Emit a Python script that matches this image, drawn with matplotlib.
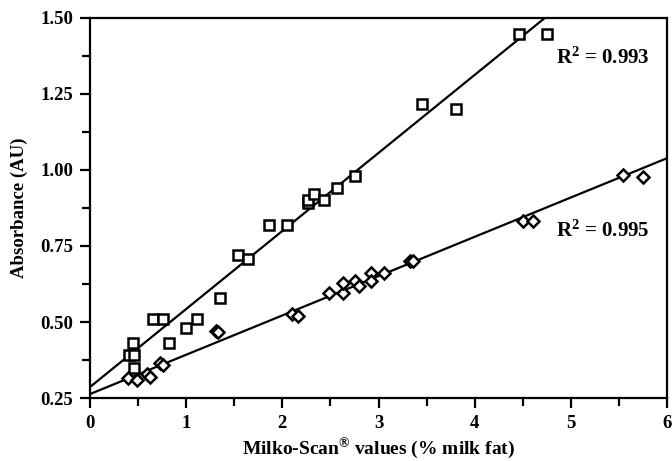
import matplotlib
matplotlib.use("Agg")
import matplotlib.pyplot as plt
import numpy as np
from matplotlib.ticker import MultipleLocator

# Squares series (% milk fat, absorbance)
sq_x = [0.41, 0.46, 0.45, 0.46, 0.65, 0.76, 0.82, 1.00, 1.11, 1.35, 1.54, 1.64, 1.86, 2.05,
        2.27, 2.27, 2.33, 2.43, 2.57, 2.76, 3.45, 3.81, 4.46, 4.75]
sq_y = [0.39, 0.39, 0.43, 0.35, 0.51, 0.51, 0.43, 0.48, 0.51, 0.58, 0.72, 0.707, 0.82, 0.82,
        0.89, 0.90, 0.92, 0.90, 0.94, 0.98, 1.217, 1.20, 1.447, 1.447]
# Diamonds series
di_x = [0.40, 0.49, 0.59, 0.62, 0.73, 0.76, 1.31, 1.33, 2.10, 2.16, 2.49, 2.63, 2.63, 2.76,
        2.80, 2.92, 2.92, 3.06, 3.33, 3.36, 4.50, 4.61, 5.54, 5.75]
di_y = [0.316, 0.31, 0.33, 0.32, 0.365, 0.36, 0.47, 0.467, 0.526, 0.52, 0.595, 0.595, 0.628,
        0.635, 0.62, 0.66, 0.635, 0.66, 0.70, 0.70, 0.832, 0.832, 0.984, 0.978]

# Regression lines (slope, intercept)
sq_fit = (0.2567, 0.286)
di_fit = (0.1293, 0.263)
r2_labels = ["R$^{2}$ = 0.993", "R$^{2}$ = 0.995"]

plt.rcParams['font.family'] = ['Liberation Serif', 'DejaVu Serif']
plt.rcParams['mathtext.fontset'] = 'custom'
plt.rcParams['mathtext.rm'] = 'Liberation Serif:bold'
plt.rcParams['mathtext.it'] = 'Liberation Serif:bold'
plt.rcParams['mathtext.bf'] = 'Liberation Serif:bold'

fig = plt.figure(figsize=(6.72, 4.61), dpi=100)
ax = fig.add_axes([90/672, 63/461, 577/672, 380/461])

xs = np.array([0, 6])
ax.plot(xs, sq_fit[0]*xs + sq_fit[1], color='black', lw=1.6, zorder=2)
ax.plot(xs, di_fit[0]*xs + di_fit[1], color='black', lw=1.6, zorder=2)

ax.plot(sq_x, sq_y, linestyle='none', marker='s', markersize=7.5, markerfacecolor='white',
        markeredgecolor='black', markeredgewidth=1.8, zorder=3)
ax.plot(di_x, di_y, linestyle='none', marker='D', markersize=6.5, markerfacecolor='white',
        markeredgecolor='black', markeredgewidth=1.8, zorder=3)

ax.set_xlim(0, 6)
ax.set_ylim(0.25, 1.50)
ax.xaxis.set_major_locator(MultipleLocator(1))
ax.xaxis.set_minor_locator(MultipleLocator(0.5))
ax.yaxis.set_major_locator(MultipleLocator(0.25))
ax.yaxis.set_minor_locator(MultipleLocator(0.125))
ax.yaxis.set_major_formatter(matplotlib.ticker.FormatStrFormatter('%.2f'))

for s in ax.spines.values():
    s.set_linewidth(1.6)
ax.tick_params(which='both', direction='out', width=1.6, labelsize=13.5)
ax.tick_params(which='major', length=7, pad=5)
ax.tick_params(which='minor', length=6)
for lab in ax.get_xticklabels() + ax.get_yticklabels():
    lab.set_fontweight('bold')

ax.text(4.85, 1.368, r2_labels[0], fontsize=15, fontweight='bold', va='center', ha='left')
ax.text(4.85, 0.80, r2_labels[1], fontsize=15, fontweight='bold', va='center', ha='left')

ax.set_xlabel('Milko-Scan$^{\\circledR}$ values (% milk fat)', fontsize=14, fontweight='bold')
ax.xaxis.set_label_coords(0.5, -0.135)
ax.xaxis.label.set_va('center')
ax.set_ylabel('Absorbance (AU)', fontsize=13.5, fontweight='bold', labelpad=9)

fig.savefig('out.png', dpi=100)
